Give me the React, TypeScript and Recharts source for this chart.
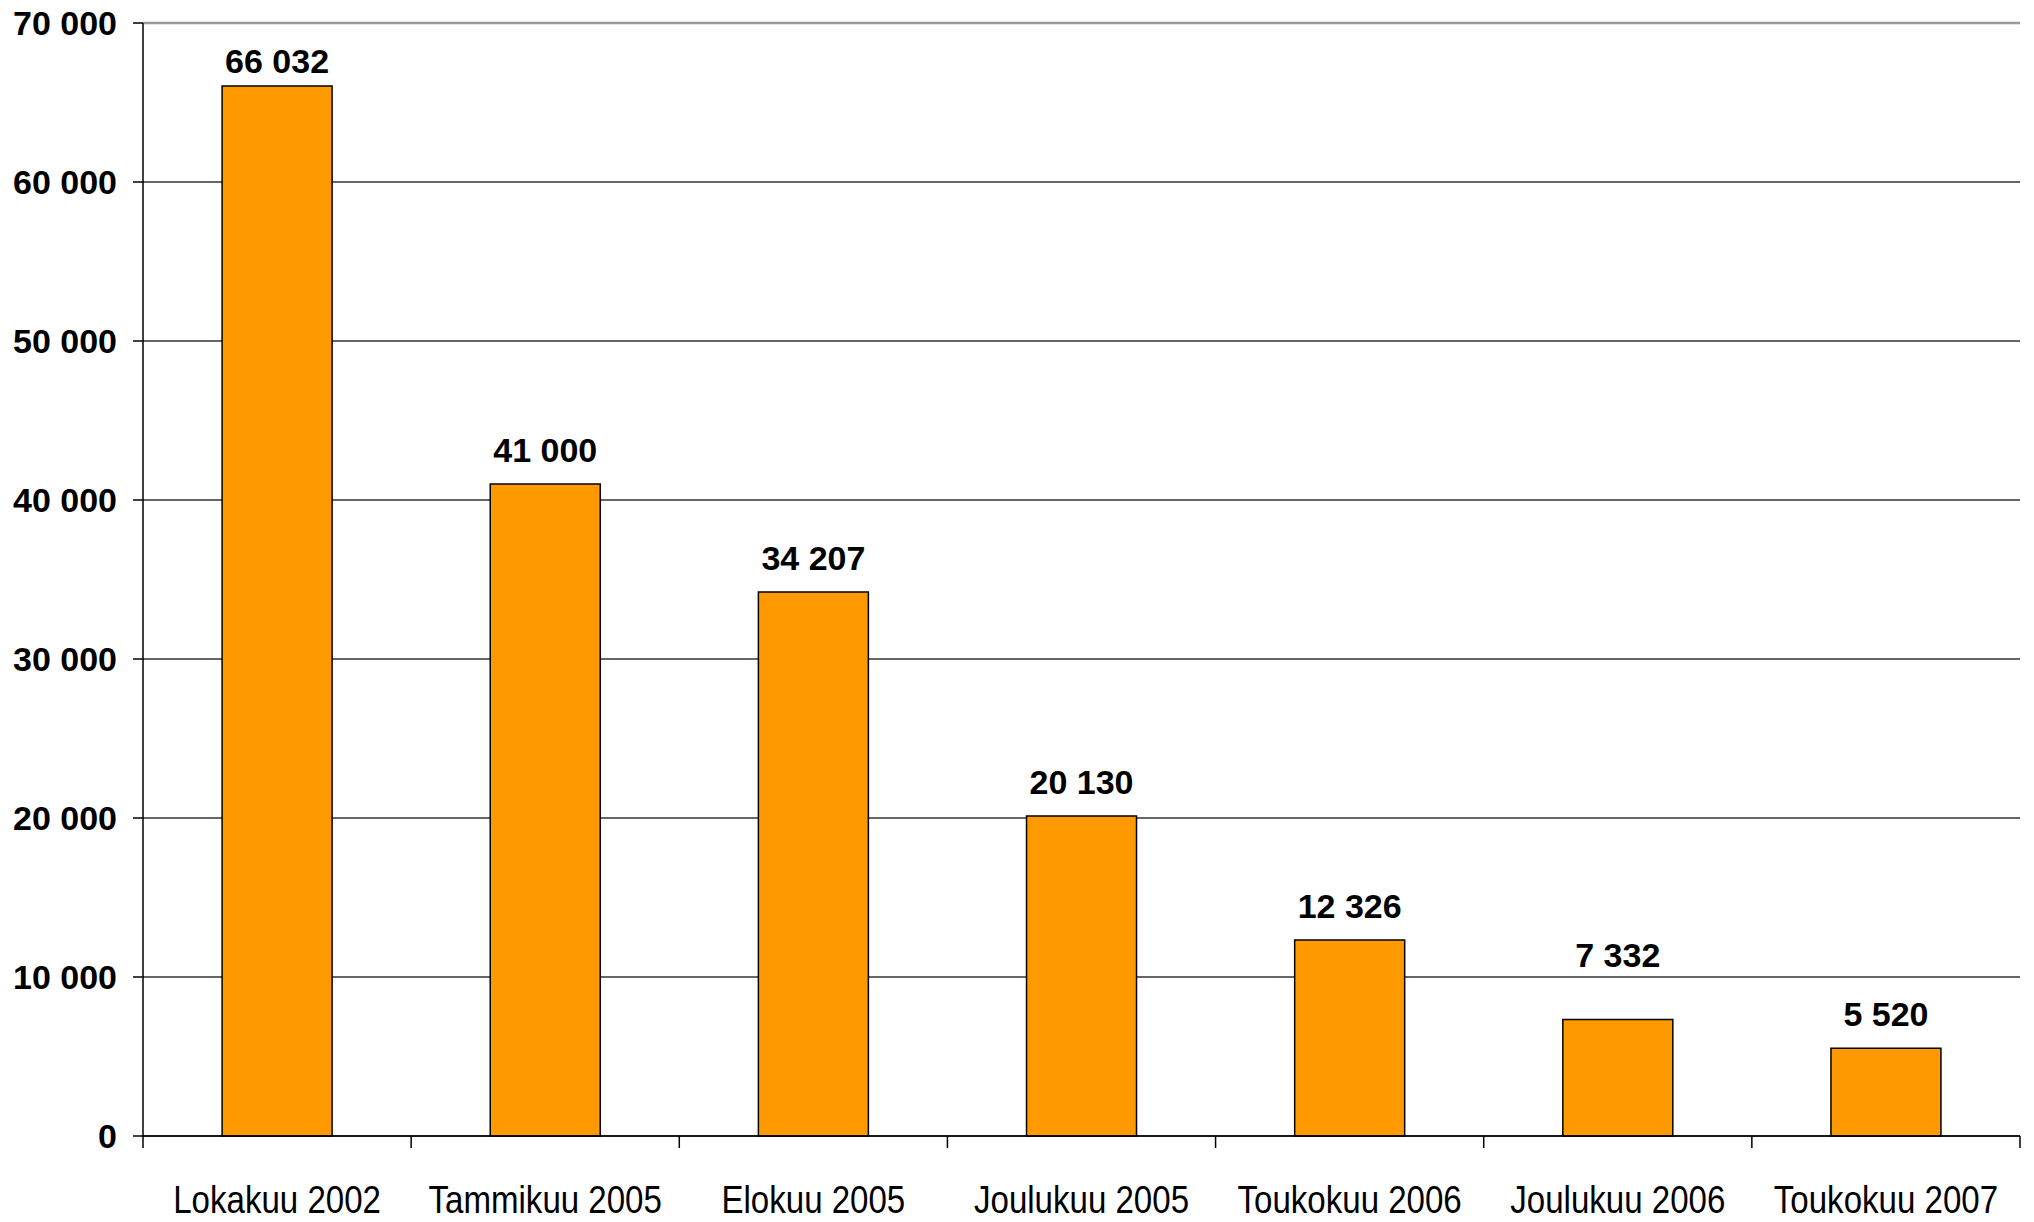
import React from "react";
import { BarChart, Bar, XAxis, YAxis, CartesianGrid, ReferenceLine, LabelList } from "recharts";

const categories = [
  "Lokakuu 2002",
  "Tammikuu 2005",
  "Elokuu 2005",
  "Joulukuu 2005",
  "Toukokuu 2006",
  "Joulukuu 2006",
  "Toukokuu 2007",
];
const values = [66032, 41000, 34207, 20130, 12326, 7332, 5520];
const yTicks = [0, 10000, 20000, 30000, 40000, 50000, 60000, 70000];

const data = categories.map((name, i) => ({ name, value: values[i] }));

const W = 2034;
const H = 1222;
const MARGIN = { top: 23, right: 14, bottom: 0, left: 0 };
const Y_AXIS_W = 143;
const X_AXIS_H = 86;
const PLOT_W = W - MARGIN.left - MARGIN.right - Y_AXIS_W;
const PLOT_BOTTOM = H - MARGIN.bottom - X_AXIS_H;
const BAND = PLOT_W / categories.length;

const fmt = (n: number) => String(n).replace(/\B(?=(\d{3})+(?!\d))/g, "\u00a0");

const labelGapDefault = 22;
const labelGapOverride: Record<number, number> = { 0: 13, 5: 52 };

const ValueLabel = (props: any) => {
  const { x, y, width, value, index } = props;
  const gap = labelGapOverride[index] ?? labelGapDefault;
  return (
    <text
      x={Number(x) + Number(width) / 2}
      y={Number(y) - gap}
      textAnchor="middle"
      fontFamily="'Liberation Sans', Arial, sans-serif"
      fontWeight="bold"
      fontSize={34}
      fill="#000"
    >
      {fmt(Number(value))}
    </text>
  );
};

const CatTick = (props: any) => {
  const { x, payload, index } = props;
  const y = PLOT_BOTTOM;
  const half = BAND / 2;
  const isLast = index === categories.length - 1;
  return (
    <g>
      <line x1={x - half} x2={x - half} y1={y} y2={y + 12} stroke="#000" strokeWidth={1.5} />
      {isLast && <line x1={x + half} x2={x + half} y1={y} y2={y + 12} stroke="#000" strokeWidth={1.5} />}
      <g transform={`translate(${x},${y + 77}) scale(0.87,1)`}>
        <text
          x={0}
          y={0}
          textAnchor="middle"
          fontFamily="'Liberation Sans', Arial, sans-serif"
          fontSize={38}
          fill="#000"
        >
          {payload.value}
        </text>
      </g>
    </g>
  );
};

export default function App() {
  return (
    <div style={{ position: "absolute", left: 0, top: 0, width: W, height: H, background: "#fff" }}>
      <BarChart width={W} height={H} data={data} margin={MARGIN} barCategoryGap="29.5%">
        <CartesianGrid vertical={false} stroke="#333" strokeWidth={1.3} />
        <XAxis
          dataKey="name"
          height={X_AXIS_H}
          axisLine={{ stroke: "#000", strokeWidth: 1.5 }}
          tickLine={false}
          tick={<CatTick />}
          interval={0}
        />
        <YAxis
          width={Y_AXIS_W}
          domain={[0, 70000]}
          ticks={yTicks}
          tickFormatter={fmt}
          axisLine={{ stroke: "#000", strokeWidth: 1.5 }}
          tickLine={{ stroke: "#000", strokeWidth: 1.5 }}
          tickSize={10}
          tickMargin={16}
          tick={{ fontFamily: "'Liberation Sans', Arial, sans-serif", fontWeight: "bold", fontSize: 34, fill: "#000" }}
          interval={0}
        />
        <YAxis
          yAxisId="right"
          orientation="right"
          width={0}
          domain={[0, 70000]}
          tick={false}
          tickLine={false}
          axisLine={{ stroke: "#999", strokeWidth: 2.5 }}
        />
        <ReferenceLine y={70000} stroke="#999" strokeWidth={2.5} />
        <Bar dataKey="value" fill="#FF9900" stroke="#000" strokeWidth={1.5} isAnimationActive={false}>
          <LabelList dataKey="value" content={<ValueLabel />} />
        </Bar>
      </BarChart>
    </div>
  );
}
